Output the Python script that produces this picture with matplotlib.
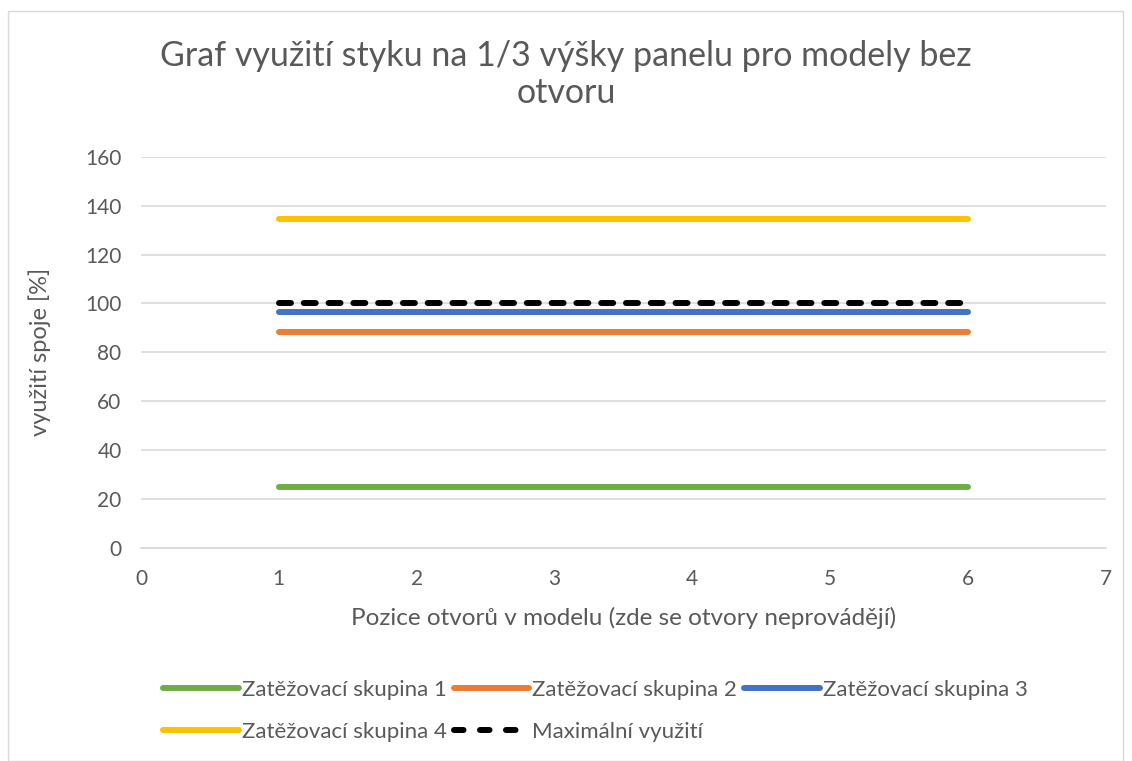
import matplotlib.pyplot as plt
from matplotlib.lines import Line2D
from matplotlib.patches import Rectangle

plt.rcParams['font.family'] = ['Lato', 'DejaVu Sans']

# data
positions = [1, 2, 3, 4, 5, 6]
skupina1 = [24.8] * 6
skupina2 = [88.5] * 6
skupina3 = [96.6] * 6
skupina4 = [134.6] * 6
maximum = [100] * 6

labels = ['Zatěžovací skupina 1', 'Zatěžovací skupina 2', 'Zatěžovací skupina 3',
          'Zatěžovací skupina 4', 'Maximální využití']
colors = ['#70AD47', '#ED7D31', '#4472C4', '#FFC000', '#000000']
yticks = [0, 20, 40, 60, 80, 100, 120, 140, 160]
xticks = [0, 1, 2, 3, 4, 5, 6, 7]

grey = '#595959'

fig = plt.figure(figsize=(11.32, 7.61), dpi=100)
ax = fig.add_axes([0.1246, 0.280, 0.852, 0.514])

series = [skupina1, skupina2, skupina3, skupina4]
handles = []
for vals, lab, col in zip(series, labels[:4], colors[:4]):
    h, = ax.plot(positions, vals, color=col, lw=4.3, solid_capstyle='round', label=lab)
    handles.append(h)
ax.plot(positions, maximum, color=colors[4], lw=4.3, ls=(0, (2.0, 2.15)),
        dash_capstyle='round', label=labels[4])
# legend proxy so the short handle shows three dashes like the original
handles.append(Line2D([], [], color=colors[4], lw=4.3, ls=(0, (1.6, 2.75)),
                      dash_capstyle='round'))

ax.set_xlim(0, 7)
ax.set_ylim(0, 160)
ax.set_xticks(xticks)
ax.set_yticks(yticks)
ax.grid(axis='y', color='#D9D9D9', lw=1.2)
ax.set_axisbelow(True)
for s in ['top', 'right', 'left']:
    ax.spines[s].set_visible(False)
ax.spines['bottom'].set_color('#D9D9D9')
ax.spines['bottom'].set_linewidth(1.2)
ax.tick_params(length=0, colors=grey, labelsize=15)
ax.tick_params(axis='x', pad=15)
ax.tick_params(axis='y', pad=14)

ax.set_xlabel('Pozice otvorů v modelu (zde se otvory neprovádějí)', fontsize=17.5,
              color=grey, va='center')
ax.xaxis.set_label_coords(0.5, -0.179)
ax.set_ylabel('využití spoje [%]', fontsize=17, color=grey, va='center')
ax.yaxis.set_label_coords(-0.105, 0.5)

fig.text(0.5, 0.948, 'Graf využití styku na 1/3 výšky panelu pro modely bez\notvoru',
         ha='center', va='top', fontsize=24.5, color=grey, linespacing=1.2)

order = [0, 3, 1, 4, 2]
fig.legend([handles[i] for i in order], [labels[i] for i in order],
           ncol=3, loc='center', bbox_to_anchor=(0.526, 0.066), frameon=False,
           fontsize=16, labelcolor=grey, handlelength=3.4, handletextpad=0.15,
           columnspacing=0.3, labelspacing=1.0)

fig.patches.append(Rectangle((0.007, 0.0), 0.985, 0.986, transform=fig.transFigure,
                             fill=False, edgecolor='#D9D9D9', lw=1))

fig.savefig('out.png', dpi=100)
